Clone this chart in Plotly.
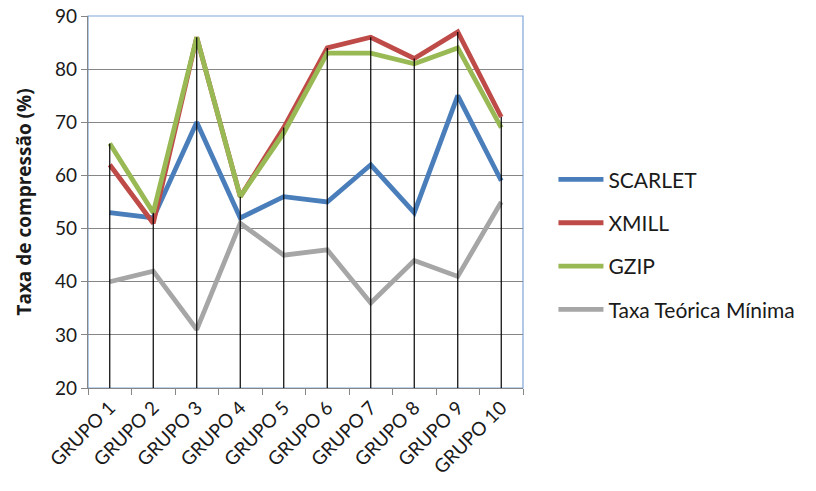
import plotly.graph_objects as go

# Compression rate per group (%)
grupos = ["GRUPO 1", "GRUPO 2", "GRUPO 3", "GRUPO 4", "GRUPO 5",
          "GRUPO 6", "GRUPO 7", "GRUPO 8", "GRUPO 9", "GRUPO 10"]
scarlet = [53, 52, 70, 52, 56, 55, 62, 53, 75, 59]
xmill = [62, 51, 86, 56, 69, 84, 86, 82, 87, 71]
gzip = [66, 53, 86, 56, 68, 83, 83, 81, 84, 69]
taxa_minima = [40, 42, 31, 51, 45, 46, 36, 44, 41, 55]

y_min, y_max = 20, 90
y_ticks = [20, 30, 40, 50, 60, 70, 80, 90]

series = [
    ("SCARLET", scarlet, "#4A7EBB"),
    ("XMILL", xmill, "#BE4B48"),
    ("GZIP", gzip, "#98B954"),
    ("Taxa Teórica Mínima", taxa_minima, "#A6A6A6"),
]

fig = go.Figure()
for i, (name, vals, color) in enumerate(series):
    fig.add_trace(go.Scatter(
        x=grupos, y=vals, name=name, mode="lines",
        line=dict(color=color, width=4.8),
        legendgroup=f"g{i}",
    ))

# Drop lines from the highest series value down to the axis
top = [max(v) for v in zip(scarlet, xmill, gzip, taxa_minima)]
dx, dy = [], []
for g, t in zip(grupos, top):
    dx += [g, g, None]
    dy += [y_min, t, None]
fig.add_trace(go.Scatter(
    x=dx, y=dy, mode="lines", showlegend=False, hoverinfo="skip",
    line=dict(color="black", width=1.2),
))

# Plot-area frame
fig.add_shape(type="rect", xref="paper", yref="paper", x0=0, x1=1, y0=0, y1=1,
              line=dict(color="#7FA6D8", width=1.2), layer="below")

font_family = "Lato, Open Sans, sans-serif"
text_color = "#1a1a1a"
fig.update_layout(
    width=816, height=491,
    margin=dict(l=88, r=293, t=16, b=103),
    paper_bgcolor="white", plot_bgcolor="white",
    font=dict(family=font_family, color=text_color),
    showlegend=True,
    legend=dict(
        x=1.07, y=0.385, xanchor="left", yanchor="middle",
        font=dict(size=21, color=text_color),
        tracegroupgap=13, itemwidth=45,
        bgcolor="rgba(0,0,0,0)",
    ),
    xaxis=dict(
        type="category", range=[-0.5, 9.5], automargin=False,
        tickangle=-45, tickfont=dict(size=19),
        showgrid=False, showline=True, linecolor="#868686", linewidth=1.2,
        ticks="outside", ticklen=6, tickcolor="#868686",
        tickson="boundaries", zeroline=False,
    ),
    yaxis=dict(
        range=[y_min, y_max], tickvals=y_ticks, automargin=False,
        tickfont=dict(size=19),
        title=dict(text="<b>Taxa de compressão (%)</b>",
                   font=dict(size=19, family="Open Sans, sans-serif"), standoff=18),
        showgrid=True, gridcolor="#868686", gridwidth=1.2,
        showline=True, linecolor="#868686", linewidth=1.2,
        ticks="outside", ticklen=6, tickcolor="#868686", zeroline=False,
    ),
)

fig.write_html("out.html")
